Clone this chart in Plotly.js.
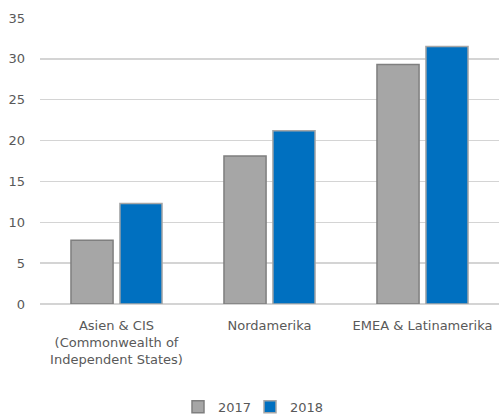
<!DOCTYPE html>
<html>
<head>
<meta charset="utf-8">
<script src="https://cdn.plot.ly/plotly-3.0.1.min.js"></script>
<style>html,body{margin:0;padding:0;background:#fff;}#chart{width:499px;height:416px;}</style>
</head>
<body>
<div id="chart"></div>
<script>
const categories = ["Asien & CIS<br>(Commonwealth of<br>Independent States)", "Nordamerika", "EMEA & Latinamerika"];
const values2017 = [7.8, 18.1, 29.3];
const values2018 = [12.3, 21.2, 31.5];
const yTicks = [0, 5, 10, 15, 20, 25, 30, 35];

const font = {family: "DejaVu Sans, sans-serif", size: 13, color: "#595959"};
const legendFont = {family: "DejaVu Sans, sans-serif", size: 13, color: "#595959"};

const traces = [
  {type: "bar", name: "2017", x: categories, y: values2017, legend: "legend",
   marker: {color: "#a6a6a6", line: {color: "#7f7f7f", width: 1.5}}},
  {type: "bar", name: "2018", x: categories, y: values2018, legend: "legend2",
   marker: {color: "#0070c0", line: {color: "#a6a6a6", width: 1.5}}}
];

const layout = {
  width: 499, height: 416,
  margin: {l: 40, r: 0, t: 18, b: 112, autoexpand: false},
  paper_bgcolor: "#fff", plot_bgcolor: "#fff",
  font: font,
  barmode: "group", bargap: 0.36, bargroupgap: 0.14,
  showlegend: true,
  legend: {orientation: "h", x: 178 / 499, xanchor: "left", xref: "container",
           y: 0.022, yanchor: "middle", yref: "container", font: legendFont, itemwidth: 30,
           bgcolor: "rgba(0,0,0,0)"},
  legend2: {orientation: "h", x: 250 / 499, xanchor: "left", xref: "container",
           y: 0.022, yanchor: "middle", yref: "container", font: legendFont, itemwidth: 30,
           bgcolor: "rgba(0,0,0,0)"},
  xaxis: {showgrid: false, zeroline: false, showline: false, ticks: "", tickfont: font,
          automargin: false, ticklabelstandoff: 12, fixedrange: true},
  yaxis: {range: [0, 35], tickvals: yTicks, ticktext: yTicks.map(String), showgrid: true,
          gridcolor: "#d4d4d4", gridwidth: 1.5, zeroline: true, zerolinecolor: "#d4d4d4", zerolinewidth: 1.5,
          showline: false, ticks: "", ticklabelstandoff: 14, tickfont: font, automargin: false, fixedrange: true}
};

Plotly.newPlot("chart", traces, layout, {displayModeBar: false, staticPlot: true});
</script>
</body>
</html>
